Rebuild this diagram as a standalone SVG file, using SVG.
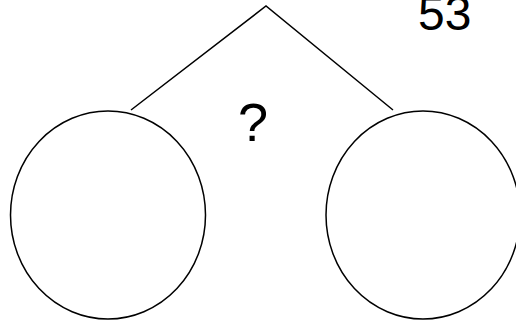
<svg xmlns="http://www.w3.org/2000/svg" width="516" height="321" viewBox="0 0 516 321">
<style>
.n{fill:none;stroke:#000;stroke-width:1.5}
.c{fill:none;stroke:#000;stroke-width:1.5}
.t{font-family:"Liberation Sans",Arial,sans-serif;fill:#000}
</style>
<rect width="516" height="321" fill="#fff"/>
<g id="connectors">
<polyline class="c" points="131,110 266,6 393,110"/>
</g>
<g id="left"><ellipse class="n" cx="108" cy="215" rx="97.5" ry="104"/></g>
<g id="right"><ellipse class="n" cx="423" cy="215" rx="97" ry="104"/></g>
<g id="q"><text class="t" x="238" y="141" font-size="54">?</text></g>
<g id="num"><text class="t" x="418" y="30" font-size="48">53</text></g>
</svg>
